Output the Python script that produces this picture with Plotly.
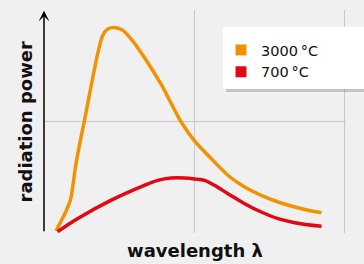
import plotly.graph_objects as go

# data (relative units)
hot_x = [0.080, 0.144, 0.178, 0.211, 0.244, 0.267, 0.311, 0.356, 0.389, 0.422, 0.467, 0.522, 0.589, 0.667,
         0.778, 0.911, 1.000, 1.111, 1.222, 1.333, 1.444, 1.556, 1.667, 1.778, 1.844]
hot_y = [0.020, 0.189, 0.309, 0.610, 0.850, 1.000, 1.309, 1.610, 1.775, 1.835, 1.850, 1.826, 1.730, 1.580,
         1.339, 1.000, 0.830, 0.670, 0.520, 0.414, 0.339, 0.279, 0.234, 0.198, 0.183]
cool_x = [0.090, 0.222, 0.444, 0.667, 0.756, 0.844, 0.933, 1.000, 1.067, 1.133, 1.222, 1.333, 1.444, 1.556,
          1.667, 1.844]
cool_y = [0.012, 0.129, 0.294, 0.429, 0.474, 0.495, 0.495, 0.487, 0.474, 0.429, 0.354, 0.264, 0.189, 0.129,
          0.093, 0.060]
names = ["3000\u202f°C", "700\u202f°C"]
colors = ["#f39200", "#e30613"]

fig = go.Figure()
for xs, ys, c, sm in [(hot_x, hot_y, colors[0], 0.6), (cool_x, cool_y, colors[1], 1.0)]:
    fig.add_trace(go.Scatter(x=xs, y=ys, mode="lines", line=dict(color=c, width=3.5, shape="spline", smoothing=sm),
                             showlegend=False, hoverinfo="skip"))
for n, c in zip(names, colors):
    fig.add_trace(go.Scatter(x=[None], y=[None], mode="markers", name=n,
                             marker=dict(symbol="square", size=11, color=c)))

W, H = 364, 264
L, R, T, B = 44, 18, 10, 31
pw, ph = W - L - R, H - T - B
XMAX = 2.007

def px(xp):
    return (xp - L) / pw
def py(yp):
    return (H - B - yp) / ph

shapes = [
    dict(type="rect", xref="paper", yref="paper", x0=px(226), x1=px(367), y0=py(92), y1=py(29.7),
         fillcolor="rgba(0,0,0,0.18)", line=dict(width=0), layer="above"),
    dict(type="rect", xref="paper", yref="paper", x0=px(223), x1=px(364), y0=py(89), y1=py(26.7),
         fillcolor="white", line=dict(width=0), layer="above"),
]

annotations = [
    dict(x=0, y=2, xref="x", yref="y", ax=0, ay=222, text="",
         showarrow=True, arrowhead=3, arrowwidth=1.5, arrowsize=1.2, arrowcolor="black"),
    dict(x=2.01, y=0, xref="x", yref="y", ax=-303, ay=0, text="",
         showarrow=True, arrowhead=3, arrowwidth=1.5, arrowsize=1.2, arrowcolor="black"),
    dict(x=0.5, y=0, xref="paper", yref="paper", xanchor="center", yanchor="middle", yshift=-17,
         text="<b>wavelength λ</b>", showarrow=False,
         font=dict(family="DejaVu Sans", size=18, color="#111")),
    dict(x=0, y=0.5, xref="paper", yref="paper", xanchor="center", yanchor="middle", xshift=-19,
         text="<b>radiation power</b>", showarrow=False,
         textangle=-90, font=dict(family="DejaVu Sans", size=18, color="#111")),
]

fig.update_layout(
    width=W, height=H, margin=dict(l=L, r=R, t=T, b=B),
    paper_bgcolor="#f0f0f0", plot_bgcolor="#f0f0f0",
    xaxis=dict(range=[0, XMAX], dtick=1, showgrid=True, gridcolor="#c8c8c8", gridwidth=1,
               showticklabels=False, zeroline=False, showline=False, ticks=""),
    yaxis=dict(range=[0, XMAX], dtick=1, showgrid=True, gridcolor="#c8c8c8", gridwidth=1,
               showticklabels=False, zeroline=False, showline=False, ticks=""),
    showlegend=True,
    legend=dict(x=px(221), y=py(34), xanchor="left", yanchor="top", bgcolor="rgba(0,0,0,0)",
                font=dict(family="DejaVu Sans", size=14.5, color="#111"), tracegroupgap=0),
    shapes=shapes, annotations=annotations,
)
fig.write_html("out.html", config={"displayModeBar": False},
               post_script="document.body.style.margin='0';document.body.style.background='#f0f0f0';")
